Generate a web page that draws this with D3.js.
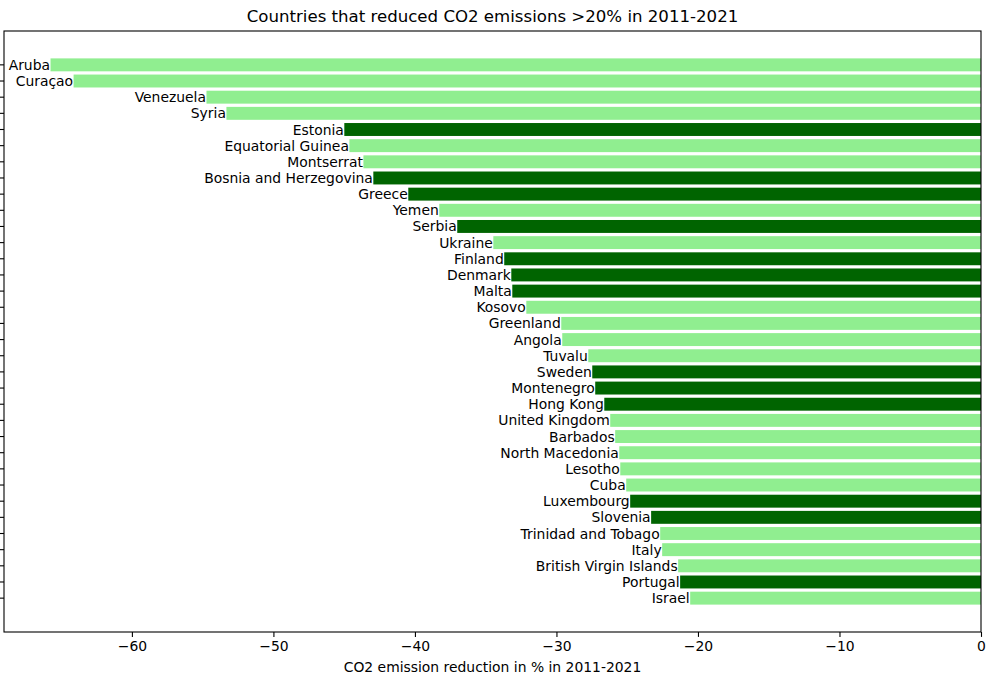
<!DOCTYPE html>
<html>
<head>
<meta charset="utf-8">
<script src="https://cdn.jsdelivr.net/npm/d3@7"></script>
<style>
  body { margin: 0; background: #fff; }
  svg { display: block; font-family: "DejaVu Sans", sans-serif; }
</style>
</head>
<body>
<svg id="chart" width="1004" height="682"></svg>
<script>
const countries = ["Aruba","Curaçao","Venezuela","Syria","Estonia","Equatorial Guinea","Montserrat","Bosnia and Herzegovina","Greece","Yemen","Serbia","Ukraine","Finland","Denmark","Malta","Kosovo","Greenland","Angola","Tuvalu","Sweden","Montenegro","Hong Kong","United Kingdom","Barbados","North Macedonia","Lesotho","Cuba","Luxembourg","Slovenia","Trinidad and Tobago","Italy","British Virgin Islands","Portugal","Israel"];
const reductions = [-65.75,-64.12,-54.73,-53.32,-44.99,-44.63,-43.64,-42.94,-40.47,-38.28,-37.01,-34.46,-33.69,-33.19,-33.12,-32.13,-29.66,-29.59,-27.75,-27.47,-27.26,-26.62,-26.20,-25.85,-25.56,-25.49,-25.07,-24.79,-23.31,-22.67,-22.53,-21.40,-21.26,-20.55];
const highlighted = ["Estonia","Bosnia and Herzegovina","Greece","Serbia","Finland","Denmark","Malta","Sweden","Montenegro","Hong Kong","Luxembourg","Slovenia","Portugal"];
const xTicks = [-60,-50,-40,-30,-20,-10,0];
const title = "Countries that reduced CO2 emissions >20% in 2011-2021";
const xLabel = "CO2 emission reduction in % in 2011-2021";

const svg = d3.select("#chart");
const L = 4, R = 981, T = 31, B = 632;
const FS = 13.9, TFS = 16.6;
const minV = d3.min(reductions);
const x = d3.scaleLinear().domain([minV * 1.05, 0]).range([L, R]);
const y = d3.scaleBand().domain(countries).range([T, B]).paddingInner(0.2).paddingOuter(1.695);

const data = countries.map((c, i) => ({ c, v: reductions[i] }));

svg.append("g").selectAll("rect").data(data).join("rect")
  .attr("x", d => x(d.v))
  .attr("y", d => y(d.c))
  .attr("width", d => x(0) - x(d.v))
  .attr("height", y.bandwidth())
  .attr("fill", d => highlighted.includes(d.c) ? "#006400" : "#90ee90");

svg.append("g").selectAll("text").data(data).join("text")
  .attr("x", d => x(d.v) - 0.5)
  .attr("y", d => y(d.c) + y.bandwidth() / 2)
  .attr("dy", "0.36em")
  .attr("text-anchor", "end")
  .attr("font-size", FS + "px")
  .attr("fill", "#000")
  .text(d => d.c);

// x axis
const fmt = v => v < 0 ? "\u2212" + Math.abs(v) : String(v);
const xa = svg.append("g").attr("transform", `translate(0,${B})`)
  .call(d3.axisBottom(x).tickValues(xTicks).tickFormat(fmt).tickSize(4.9).tickPadding(4.5));
xa.select(".domain").remove();
xa.selectAll("line").attr("stroke", "#000").attr("stroke-width", 1.1);
xa.selectAll("text").attr("font-size", FS + "px").attr("fill", "#000").attr("font-family", "DejaVu Sans, sans-serif");

// y axis ticks (no labels)
const ya = svg.append("g").attr("transform", `translate(${L},0)`)
  .call(d3.axisLeft(y).tickFormat("").tickSize(4.9));
ya.select(".domain").remove();
ya.selectAll("line").attr("stroke", "#000").attr("stroke-width", 1.1);

// frame
svg.append("rect").attr("x", L).attr("y", T).attr("width", R - L).attr("height", B - T)
  .attr("fill", "none").attr("stroke", "#000").attr("stroke-width", 1.1);

svg.append("text").attr("x", (L + R) / 2).attr("y", T - 9)
  .attr("text-anchor", "middle").attr("font-size", TFS + "px").text(title);
svg.append("text").attr("x", (L + R) / 2).attr("y", 672)
  .attr("text-anchor", "middle").attr("font-size", FS + "px").text(xLabel);
</script>
</body>
</html>
